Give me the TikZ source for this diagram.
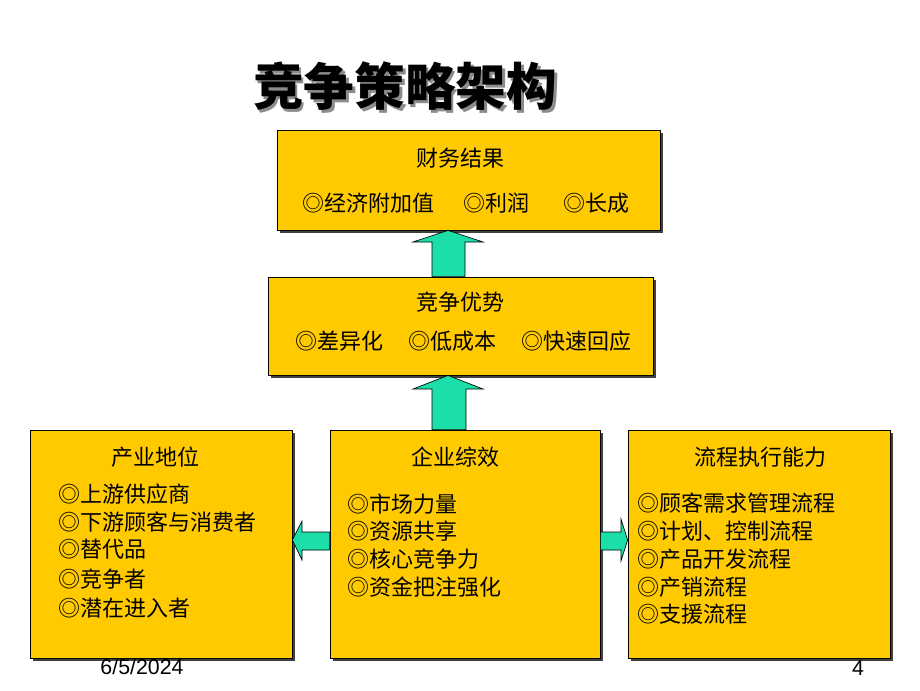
\documentclass[tikz,border=0pt]{standalone}
\usepackage{fontspec}
\setmainfont{Liberation Sans}
\newfontfamily\cjk{Noto Sans CJK SC}
\usetikzlibrary{fit,shadows}

\definecolor{boxgold}{RGB}{255,202,0}
\definecolor{arrowmint}{RGB}{28,222,168}
\def\fsz{\fontsize{16.5}{18}\selectfont}

\begin{document}
\begin{tikzpicture}[x=0.75pt, y=-0.75pt,
    panel/.style={draw=black, line width=0.6pt, fill=boxgold, inner sep=0pt,
      drop shadow={shadow xshift=2.5pt, shadow yshift=-2.5pt, fill=black!75, opacity=1}},
    blockarrow/.style={draw=black, line width=0.5pt, fill=arrowmint},
    head/.style={inner sep=0pt, anchor=center, font=\cjk\fsz},
    item/.style={inner sep=0pt, anchor=west, font=\cjk\fsz}]
  \useasboundingbox (0,0) rectangle (920,690);

  % title, with its grey shadow set in the same box
  \node[inner sep=0pt, font=\cjk\bfseries\fontsize{38}{40}\selectfont] (title) at (405,88)
    {\rlap{\hspace{2.2pt}\raisebox{-2.2pt}{\color{black!45}竞争策略架构}}竞争策略架构};

  % panels
  \node[panel, fit={(277,130) (660,230)}] (fin) {};
  \node[panel, fit={(268,277) (653,375)}] (adv) {};
  \node[panel, fit={(30,430) (292,658)}] (ind) {};
  \node[panel, fit={(330,430) (600,658)}] (syn) {};
  \node[panel, fit={(628,430) (890,658)}] (proc) {};

  % arrows
  \draw[blockarrow] (448,0 |- fin.south) -- (483,242) -- (465,242) -- (465,0 |- adv.north)
    -- (432,0 |- adv.north) -- (432,242) -- (413,242) -- cycle;
  \draw[blockarrow] (448,0 |- adv.south) -- (483,389) -- (466,389) -- (466,0 |- syn.north)
    -- (432,0 |- syn.north) -- (432,389) -- (413,389) -- cycle;
  \draw[blockarrow] (ind.east |- 0,540) -- (302,521) -- (302,532) -- (syn.west |- 0,532)
    -- (syn.west |- 0,550) -- (302,550) -- (302,560) -- cycle;
  \draw[blockarrow] (proc.west |- 0,540) -- (621,519) -- (621,532) -- (syn.east |- 0,532)
    -- (syn.east |- 0,550) -- (621,550) -- (621,561) -- cycle;

  % top panel
  \node[head] (finhead) at (460,158) {财务结果};
  \node[item] (fin1) at (302,203) {◎经济附加值};
  \node[item] (fin2) at (463,203) {◎利润};
  \node[item] (fin3) at (563,203) {◎长成};

  % middle panel
  \node[head] (advhead) at (460,302) {竞争优势};
  \node[item] (adv1) at (295,341) {◎差异化};
  \node[item] (adv2) at (408,341) {◎低成本};
  \node[item] (adv3) at (521,341) {◎快速回应};

  % left panel
  \node[head] (indhead) at (155,457) {产业地位};
  \node[item] (ind1) at (58,494) {◎上游供应商};
  \node[item] (ind2) at (58,522) {◎下游顾客与消费者};
  \node[item] (ind3) at (58,549) {◎替代品};
  \node[item] (ind4) at (58,579) {◎竞争者};
  \node[item] (ind5) at (58,608) {◎潜在进入者};

  % centre panel
  \node[head] (synhead) at (455,457) {企业综效};
  \node[item] (syn1) at (347,504) {◎市场力量};
  \node[item] (syn2) at (347,531) {◎资源共享};
  \node[item] (syn3) at (347,559) {◎核心竞争力};
  \node[item] (syn4) at (347,587) {◎资金把注强化};

  % right panel
  \node[head] (prochead) at (760,457) {流程执行能力};
  \node[item] (proc1) at (637,503) {◎顾客需求管理流程};
  \node[item] (proc2) at (637,531) {◎计划、控制流程};
  \node[item] (proc3) at (637,559) {◎产品开发流程};
  \node[item] (proc4) at (637,587) {◎产销流程};
  \node[item] (proc5) at (637,614) {◎支援流程};

  % footer
  \node[inner sep=0pt, font=\fontsize{16}{18}\selectfont] (date) at (142,667) {6/5/2024};
  \node[inner sep=0pt, font=\fontsize{16}{18}\selectfont] (page) at (858,668) {4};
\end{tikzpicture}
\end{document}
